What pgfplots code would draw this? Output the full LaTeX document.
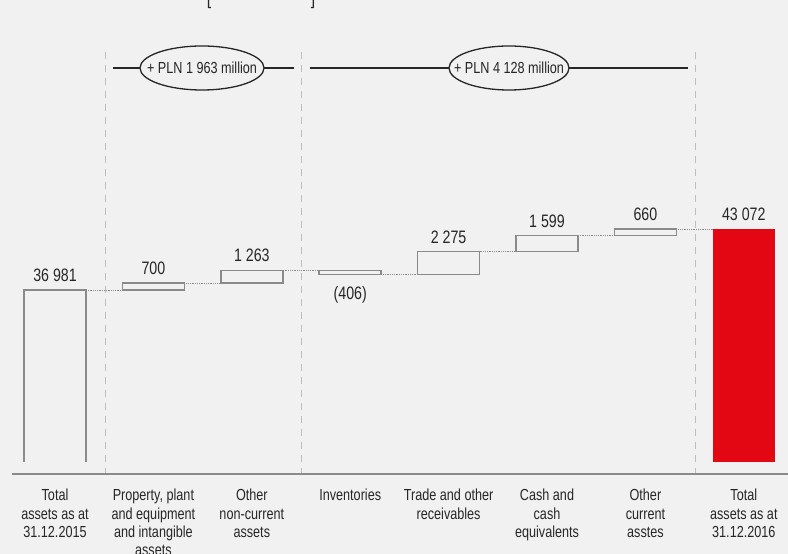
\documentclass[border=0pt]{standalone}
\usepackage{pgfplots}
\pgfplotsset{compat=1.18}
\usepackage{pgfplotstable}
\usepackage{fontspec}
\setmainfont{Liberation Sans}[FakeStretch=0.79]
\definecolor{bg}{HTML}{F1F1F1}
\definecolor{barline}{HTML}{8A8A8A}
\definecolor{txt}{HTML}{262626}
\definecolor{pkred}{HTML}{E30613}
\definecolor{sep}{HTML}{BEBEBE}

\pgfplotstableread{
x base delta red
0 0 36981 0
1 36981 700 0
2 37681 1263 0
3 38538 406 0
4 38538 2275 0
5 40813 1599 0
6 42412 660 0
7 0 0 43072
}\bars

\pgfplotstableread{
x y label
0 36981 {36 981}
1 37681 {700}
2 38944 {1 263}
4 40813 {2 275}
5 42412 {1 599}
6 43072 {660}
7 43072 {43 072}
}\labels

\pgfplotstableread{
x y label
3 38538 {(406)}
}\neglabels

\pgfplotsset{common/.style={at={(12pt,92pt)}, anchor=south west, scale only axis,
  width=776pt, height=422pt, xmin=-0.437, xmax=7.449, ymin=19807, ymax=61944}}

\begin{document}
\begin{tikzpicture}
\useasboundingbox (0,0) rectangle (788pt,554pt);
\clip (0,0) rectangle (788pt,554pt);
\fill[bg] (0,0) rectangle (788pt,554pt);
\begin{scope}[x=1pt,y=1pt]
  \draw[sep, line width=1pt, dash pattern=on 7pt off 6pt] (105,502) -- (105,80);
  \draw[sep, line width=1pt, dash pattern=on 7pt off 6pt] (301,502) -- (301,80);
  \draw[sep, line width=1pt, dash pattern=on 7pt off 6pt] (695,502) -- (695,80);
  \draw[barline, line width=1.5pt] (12,80) -- (788,80);
  \node[font=\fontsize{20}{20}\selectfont, txt, anchor=base] at (209,549) {[};
  \node[font=\fontsize{20}{20}\selectfont, txt, anchor=base] at (313,549) {]};
\end{scope}

\begin{axis}[common, ybar stacked, bar width=62pt, clip=true,
  axis line style={draw=none}, ytick=\empty, xtick={0,...,7},
  major tick length=0pt,
  xticklabels={{Total\\assets as at\\31.12.2015},{Property, plant\\and equipment\\and intangible\\assets},{Other\\non-current\\assets},{Inventories},{Trade and other\\receivables},{Cash and\\cash\\equivalents},{Other\\current\\asstes},{Total\\assets as at\\31.12.2016}},
  xticklabel style={align=center, anchor=north, inner sep=0pt, yshift=-27pt, font=\fontsize{16}{18.3}\selectfont, text=txt}]
\addplot[draw=none, fill=none] table[x=x,y=base]{\bars};
\addplot[draw=barline, fill=bg, line width=1.6pt] table[x=x,y=delta]{\bars};
\addplot[draw=none, fill=pkred] table[x=x,y=red]{\bars};
\end{axis}

\begin{axis}[common, hide axis, clip=false]
\addplot[densely dotted, barline, line width=0.8pt, mark=none, unbounded coords=jump] coordinates {
(0.315,36981)(0.685,36981)(0.5,nan)
(1.315,37681)(1.685,37681)(1.5,nan)
(2.315,38944)(2.685,38944)(2.5,nan)
(3.315,38538)(3.685,38538)(3.5,nan)
(4.315,40813)(4.685,40813)(4.5,nan)
(5.315,42412)(5.685,42412)(5.5,nan)
(6.315,43072)(6.685,43072)};
\addplot[draw=none, mark=none, nodes near coords, point meta=explicit symbolic,
  nodes near coords style={anchor=south, inner sep=0pt, font=\fontsize{18}{20}\selectfont, text=txt, yshift=8pt}]
  table[x=x,y=y,meta=label]{\labels};
\addplot[draw=none, mark=none, nodes near coords, point meta=explicit symbolic,
  nodes near coords style={anchor=north, inner sep=0pt, font=\fontsize{18}{20}\selectfont, text=txt, yshift=-12pt}]
  table[x=x,y=y,meta=label]{\neglabels};
\end{axis}

\begin{scope}[x=1pt,y=1pt]
  \draw[txt, line width=1.3pt] (113,486) -- (294,486);
  \draw[txt, line width=1.3pt, fill=bg] (202,486) ellipse (62 and 22);
  \node[txt, font=\fontsize{16}{18}\selectfont] at (202,486) {+ PLN 1 963 million};
  \draw[txt, line width=1.3pt] (310,486) -- (688,486);
  \draw[txt, line width=1.3pt, fill=bg] (509,486) ellipse (60 and 22);
  \node[txt, font=\fontsize{16}{18}\selectfont] at (509,486) {+ PLN 4 128 million};
\end{scope}
\end{tikzpicture}
\end{document}
